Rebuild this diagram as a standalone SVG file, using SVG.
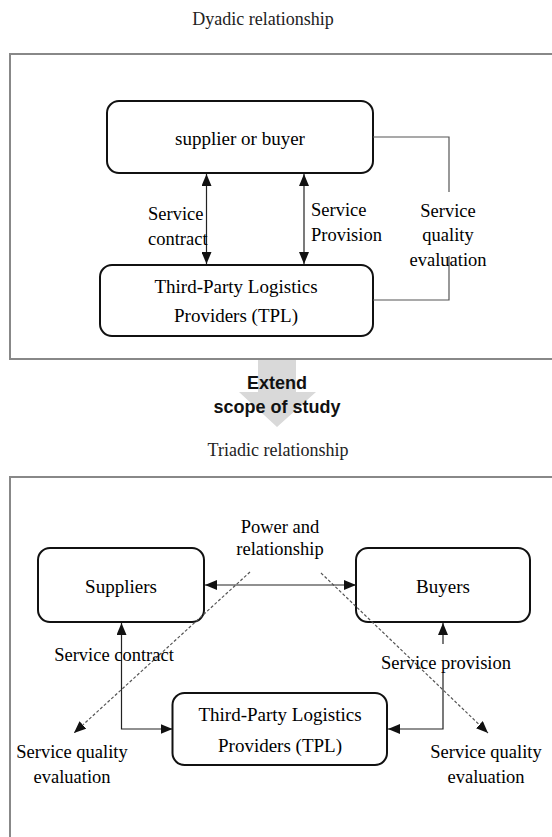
<svg xmlns="http://www.w3.org/2000/svg" width="552" height="837" viewBox="0 0 552 837">
  <style>
    .t { font-family: "Liberation Serif", "DejaVu Serif", serif; font-size: 18.5px; fill: #000; text-anchor: middle; }
    .tl { font-size: 19px; }
    .ts { font-family: "Liberation Serif", "DejaVu Serif", serif; font-size: 18.5px; fill: #000; }
    .title { font-family: "Liberation Serif", "DejaVu Serif", serif; font-size: 18px; fill: #222; text-anchor: middle; }
    .node { fill: #fff; stroke: #111; stroke-width: 2; }
    .frame { fill: none; stroke: #888; stroke-width: 2; }
    .conn { fill: none; stroke: #222; stroke-width: 1.2; }
    .gconn { fill: none; stroke: #555; stroke-width: 1.2; }
    .dash { fill: none; stroke: #555; stroke-width: 1.2; stroke-dasharray: 3 2; }
    .bold { font-family: "Liberation Sans", "Noto Sans", sans-serif; font-size: 18px; font-weight: bold; fill: #111; text-anchor: middle; }
  </style>
  <defs>
    <marker id="ah" viewBox="0 0 12 10" refX="12" refY="5" markerWidth="12" markerHeight="10" markerUnits="userSpaceOnUse" orient="auto-start-reverse">
      <path d="M0,0 L12,5 L0,10 Z" fill="#111"/>
    </marker>
  </defs>

  <rect width="552" height="837" fill="#fff"/>

  <!-- Section 1 -->
  <text class="title" x="263" y="25">Dyadic relationship</text>
  <rect class="frame" x="10" y="54" width="560" height="305"/>

  <!-- Big gray arrow -->
  <path d="M258,360 H296 V392 H316 L277,427 L239,392 H258 Z" fill="#d9d9d9"/>
  <text class="bold" x="277" y="389">Extend</text>
  <text class="bold" x="277" y="413">scope of study</text>

  <text class="title" x="278" y="456">Triadic relationship</text>
  <rect class="frame" x="10" y="477" width="560" height="380"/>

  <!-- Dyadic nodes -->
  <g id="supplier-or-buyer">
    <rect class="node" x="107" y="101" width="266" height="72" rx="12"/>
    <text class="t tl" x="240" y="145">supplier or buyer</text>
  </g>
  <g id="tpl-dyadic">
    <rect class="node" x="100" y="265" width="273" height="71" rx="12"/>
    <text class="t tl" x="236" y="293">Third-Party Logistics</text>
    <text class="t tl" x="236" y="322">Providers (TPL)</text>
  </g>

  <!-- Triadic nodes -->
  <g id="suppliers">
    <rect class="node" x="38" y="548" width="166" height="74" rx="12"/>
    <text class="t tl" x="121" y="593">Suppliers</text>
  </g>
  <g id="buyers">
    <rect class="node" x="356" y="548" width="174" height="74" rx="12"/>
    <text class="t tl" x="443" y="593">Buyers</text>
  </g>
  <g id="tpl-triadic">
    <rect class="node" x="172.5" y="693" width="214.5" height="72" rx="12"/>
    <text class="t tl" x="280" y="721">Third-Party Logistics</text>
    <text class="t tl" x="280" y="752">Providers (TPL)</text>
  </g>

  <g id="connectors">
    <!-- dyadic -->
    <line class="conn" x1="206.5" y1="174" x2="206.5" y2="264" marker-start="url(#ah)" marker-end="url(#ah)"/>
    <line class="conn" x1="304" y1="174" x2="304" y2="264" marker-start="url(#ah)" marker-end="url(#ah)"/>
    <path class="gconn" d="M373,137 H449 V192"/>
    <path class="gconn" d="M449,256 V300 H373"/>
    <!-- triadic -->
    <line class="conn" x1="205" y1="585" x2="356" y2="585" marker-start="url(#ah)" marker-end="url(#ah)"/>
    <path class="conn" d="M121.5,623 V729 H172.5" marker-start="url(#ah)" marker-end="url(#ah)"/>
    <line class="conn" x1="443" y1="644" x2="443" y2="623" marker-end="url(#ah)"/>
    <path class="conn" d="M443,673 V729 H388" marker-end="url(#ah)"/>
    <line class="dash" x1="250" y1="572" x2="74" y2="733" marker-end="url(#ah)"/>
    <line class="dash" x1="321" y1="573" x2="488" y2="733" marker-end="url(#ah)"/>
  </g>

  <g id="dyadic-labels">
    <text class="ts" x="148" y="220">Service</text>
    <text class="ts" x="148" y="245">contract</text>
    <text class="ts" x="311" y="216">Service</text>
    <text class="ts" x="311" y="241">Provision</text>
    <text class="t" x="448" y="217">Service</text>
    <text class="t" x="448" y="241">quality</text>
    <text class="t" x="448" y="266">evaluation</text>
  </g>

  <g id="triadic-labels">
    <text class="t" x="280" y="533">Power and</text>
    <text class="t" x="280" y="555">relationship</text>
    <text class="t" x="114" y="661">Service contract</text>
    <text class="t" x="446" y="669">Service provision</text>
    <text class="t" x="72" y="758">Service quality</text>
    <text class="t" x="72" y="783">evaluation</text>
    <text class="t" x="486" y="758">Service quality</text>
    <text class="t" x="486" y="783">evaluation</text>
  </g>
</svg>
